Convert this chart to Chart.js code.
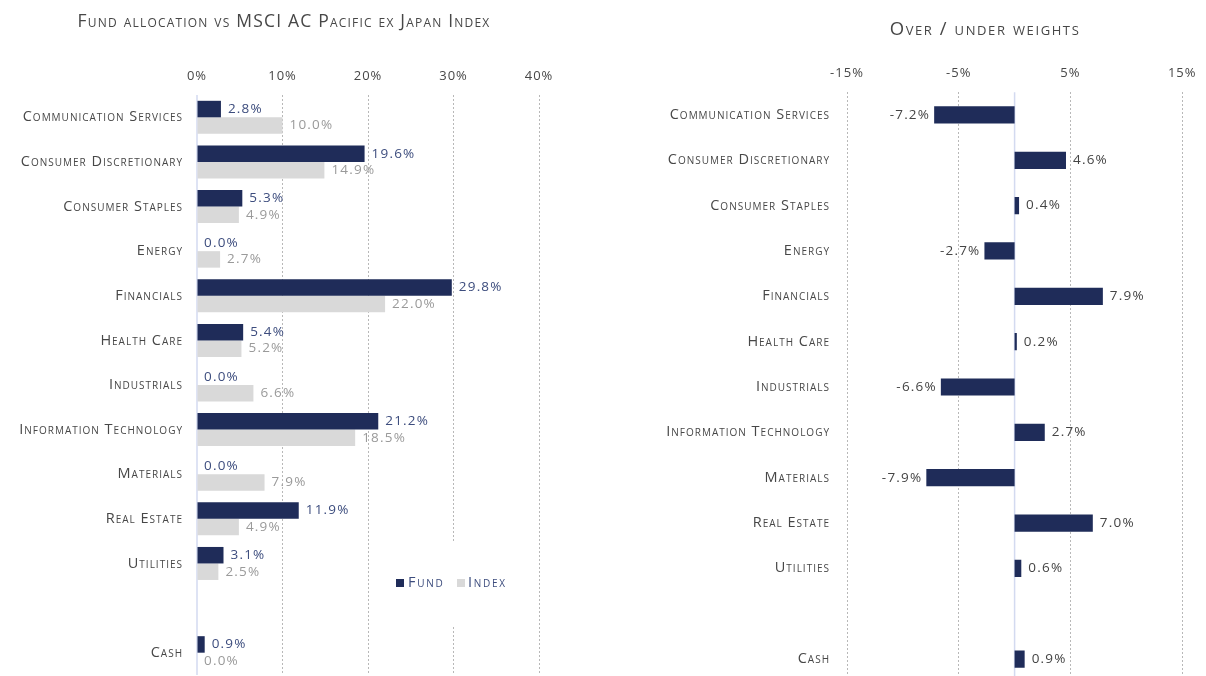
<!DOCTYPE html>
<html>
<head>
<meta charset="utf-8">
<script src="https://cdn.jsdelivr.net/npm/chart.js@4.4.1/dist/chart.umd.min.js"></script>
<style>
    body { margin: 0; background: #fff; overflow: hidden; width: 1206px; height: 676px; position: relative; }
    #left { position: absolute; left: 0; top: 0; width: 600px; height: 676px; }
    #right { position: absolute; left: 600px; top: 0; width: 606px; height: 690px; }
</style>
</head>
<body>
<div id="left"><canvas id="allocationChart"></canvas></div>
<div id="right"><canvas id="weightsChart"></canvas></div>
<script>
const sectors = ['Communication Services', 'Consumer Discretionary', 'Consumer Staples', 'Energy', 'Financials',
    'Health Care', 'Industrials', 'Information Technology', 'Materials', 'Real Estate', 'Utilities', '', 'Cash'];
const fundWeights = [2.8, 19.6, 5.3, 0.0, 29.8, 5.4, 0.0, 21.2, 0.0, 11.9, 3.1, null, 0.9];
const indexWeights = [10.0, 14.9, 4.9, 2.7, 22.0, 5.2, 6.6, 18.5, 7.9, 4.9, 2.5, null, 0.0];
const overUnder = [-7.2, 4.6, 0.4, -2.7, 7.9, 0.2, -6.6, 2.7, -7.9, 7.0, 0.6, null, 0.9];
const allocationTicks = [0, 10, 20, 30, 40];
const overUnderTicks = [-15, -5, 5, 15];

const FONT = '"Open Sans", sans-serif';
const NAVY = '#1f2c59';
const GREY = '#d9d9d9';
const TEXT = '#474747';

// the original font is wide, so open the letters up a bit
const spacing = {
    id: 'spacing',
    beforeDraw(chart) {
        chart.ctx.letterSpacing = '1px';
    }
};

// thin bluish line at zero
const zeroLine = {
    id: 'zeroLine',
    beforeDatasetsDraw(chart) {
        const x = chart.scales.x.getPixelForValue(0);
        const { top, bottom } = chart.chartArea;
        const ctx = chart.ctx;
        ctx.save();
        ctx.strokeStyle = '#d3daf0';
        ctx.lineWidth = 1.5;
        ctx.beginPath();
        ctx.moveTo(x, top);
        ctx.lineTo(x, bottom);
        ctx.stroke();
        ctx.restore();
    }
};

// small caps heading, placed by hand
const heading = {
    id: 'heading',
    afterDraw(chart, args, opts) {
        const ctx = chart.ctx;
        ctx.save();
        ctx.font = 'small-caps ' + opts.size + 'px ' + FONT;
        ctx.letterSpacing = opts.spacing + 'px';
        ctx.fillStyle = TEXT;
        ctx.textAlign = 'center';
        ctx.textBaseline = 'middle';
        ctx.fillText(opts.text, opts.x, opts.y);
        ctx.restore();
    }
};

// value labels next to bar ends
const barLabels = {
    id: 'barLabels',
    afterDatasetsDraw(chart, args, opts) {
        const ctx = chart.ctx;
        ctx.save();
        ctx.font = '13.5px ' + FONT;
        ctx.letterSpacing = '1.2px';
        ctx.textBaseline = 'middle';
        chart.data.datasets.forEach((ds, i) => {
            chart.getDatasetMeta(i).data.forEach((bar, j) => {
                const v = ds.data[j];
                if (v === null) return;
                ctx.fillStyle = opts.colors[i];
                const text = v.toFixed(1) + '%';
                if (v < 0) {
                    ctx.textAlign = 'right';
                    ctx.fillText(text, bar.x - 4, bar.y);
                } else {
                    ctx.textAlign = 'left';
                    ctx.fillText(text, bar.x + 7, bar.y);
                }
            });
        });
        ctx.restore();
    }
};

// legend box sitting on the grid
const fundLegend = {
    id: 'fundLegend',
    afterDraw(chart) {
        const ctx = chart.ctx;
        ctx.save();
        ctx.fillStyle = '#fff';
        ctx.fillRect(382, 543, 142, 82);
        ctx.font = 'small-caps 14.5px ' + FONT;
        ctx.letterSpacing = '1.7px';
        ctx.textBaseline = 'middle';
        ctx.textAlign = 'left';
        ctx.fillStyle = NAVY;
        ctx.fillRect(396, 579, 8, 8);
        ctx.fillStyle = '#3d4d7e';
        ctx.fillText('Fund', 408, 583);
        ctx.fillStyle = GREY;
        ctx.fillRect(457, 579, 8, 8);
        ctx.fillStyle = '#3d4d7e';
        ctx.fillText('Index', 468, 583);
        ctx.restore();
    }
};

function xAxis(min, max, tickValues, height) {
    return {
        position: 'top',
        min: min,
        max: max,
        afterBuildTicks: scale => { scale.ticks = tickValues.map(v => ({ value: v })); },
        afterFit: scale => { scale.height = height; },
        grid: {
            drawTicks: false,
            color: ctx => ctx.tick && ctx.tick.value === 0 ? 'transparent' : '#b8b8b8'
        },
        border: { display: false, dash: [2, 2] },
        ticks: {
            padding: 11,
            color: TEXT,
            font: { family: FONT, size: 13 },
            callback: v => v + '%'
        }
    };
}

function yAxis(width, padding) {
    return {
        afterFit: scale => {
            scale.width = width;
            scale.paddingTop = 0;
            scale.paddingBottom = 0;
        },
        grid: { display: false },
        border: { display: false },
        ticks: {
            padding: padding,
            color: TEXT,
            autoSkip: false,
            font: { family: FONT, size: 14.5, weight: 'small-caps' }
        }
    };
}

new Chart(document.getElementById('allocationChart'), {
    type: 'bar',
    data: {
        labels: sectors,
        datasets: [
            { label: 'Fund', data: fundWeights, backgroundColor: NAVY, categoryPercentage: 0.74, barPercentage: 1 },
            { label: 'Index', data: indexWeights, backgroundColor: GREY, categoryPercentage: 0.74, barPercentage: 1 }
        ]
    },
    options: {
        indexAxis: 'y',
        responsive: true,
        maintainAspectRatio: false,
        animation: false,
        layout: { padding: { left: 0, right: 61, top: 65, bottom: 1 } },
        scales: {
            x: xAxis(0, 40, allocationTicks, 30),
            y: yAxis(197, 6)
        },
        plugins: {
            legend: { display: false },
            tooltip: { enabled: false },
            heading: { text: 'Fund allocation vs MSCI AC Pacific ex Japan Index', x: 284, y: 22, size: 17.5, spacing: 1.2 },
            barLabels: { colors: ['#3d4d7e', '#9a9a9a'] }
        }
    },
    plugins: [spacing, zeroLine, barLabels, fundLegend, heading]
});

new Chart(document.getElementById('weightsChart'), {
    type: 'bar',
    data: {
        labels: sectors,
        datasets: [
            { label: 'Over / under', data: overUnder, backgroundColor: NAVY, categoryPercentage: 1, barPercentage: 0.38 }
        ]
    },
    options: {
        indexAxis: 'y',
        responsive: true,
        maintainAspectRatio: false,
        animation: false,
        layout: { padding: { left: 0, right: 16, top: 62.3, bottom: 8.3 } },
        scales: {
            x: xAxis(-15, 15, overUnderTicks, 30),
            y: yAxis(247, 9)
        },
        plugins: {
            legend: { display: false },
            tooltip: { enabled: false },
            heading: { text: 'Over / under weights', x: 385, y: 30, size: 18.5, spacing: 1.6 },
            barLabels: { colors: ['#444444'] }
        }
    },
    plugins: [spacing, zeroLine, barLabels, heading]
});
</script>
</body>
</html>
